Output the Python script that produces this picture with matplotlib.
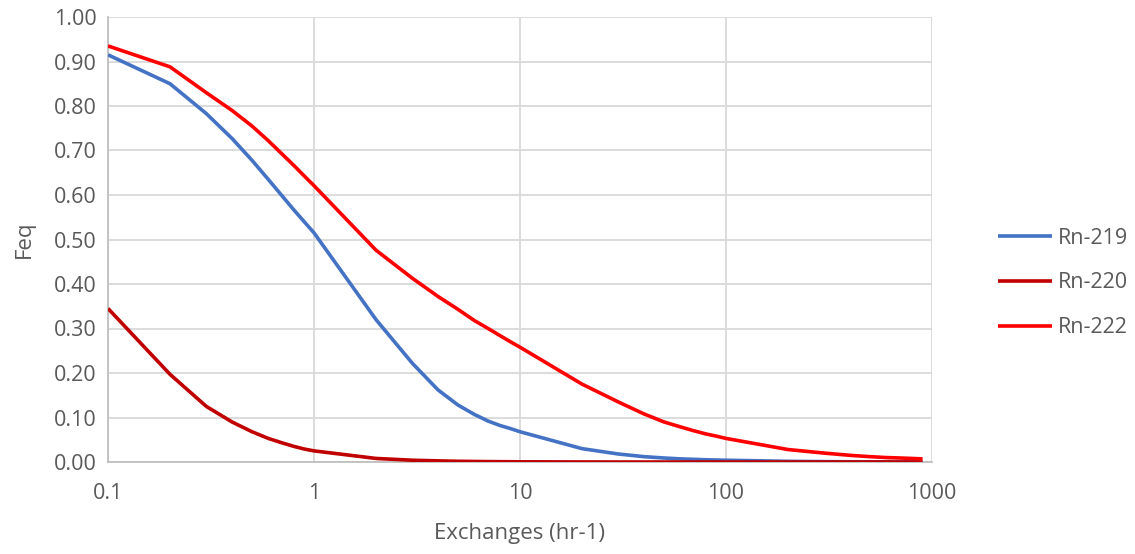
"""
Equilibrium factor vs air exchange rate for three radon isotopes.
"""
import numpy as np, matplotlib
matplotlib.use('Agg')
import matplotlib.pyplot as plt
from matplotlib.ticker import FixedLocator, FuncFormatter, NullLocator

plt.rcParams.update({
    'font.family': ['Open Sans', 'DejaVu Sans'],
    'font.size': 15,
})

exchanges = [0.1, 0.2, 0.3, 0.4, 0.5, 0.6, 0.7, 0.8, 0.9,
             1, 2, 3, 4, 5, 6, 7, 8, 9,
             10, 20, 30, 40, 50, 60, 70, 80, 90,
             100, 200, 300, 400, 500, 600, 700, 800, 900]

rn219 = [0.915, 0.850, 0.783, 0.727, 0.678, 0.635, 0.598, 0.566, 0.539,
         0.515, 0.320, 0.222, 0.162, 0.128, 0.107, 0.092, 0.082, 0.075,
         0.068, 0.030, 0.018, 0.012, 0.009, 0.007, 0.006, 0.005, 0.0045,
         0.004, 0.0015, 0.0008, 0.0005, 0.0004, 0.0003, 0.0002, 0.0002, 0.0001]

rn220 = [0.345, 0.197, 0.125, 0.090, 0.068, 0.053, 0.043, 0.035, 0.029,
         0.025, 0.008, 0.004, 0.0025, 0.0016, 0.0012, 0.0009, 0.0007, 0.0006,
         0.0004, 0.0001, 0.0, 0.0, 0.0, 0.0, 0.0, 0.0, 0.0,
         0.0, 0.0, 0.0, 0.0, 0.0, 0.0, 0.0, 0.0, 0.0]

rn222 = [0.935, 0.888, 0.830, 0.790, 0.755, 0.722, 0.692, 0.666, 0.642,
         0.621, 0.476, 0.413, 0.372, 0.343, 0.318, 0.300, 0.284, 0.270,
         0.258, 0.175, 0.135, 0.108, 0.090, 0.079, 0.070, 0.063, 0.058,
         0.053, 0.028, 0.020, 0.015, 0.012, 0.010, 0.009, 0.008, 0.007]

series = [('Rn-219', rn219, '#4472C4'),
          ('Rn-220', rn220, '#C00000'),
          ('Rn-222', rn222, '#FF0000')]

fig = plt.figure(figsize=(11.35, 5.54), dpi=100)
ax = fig.add_axes([108/1135, 1 - 462/554, (932 - 108)/1135, (462 - 17)/554])

for name, vals, color in series:
    ax.plot(exchanges, vals, color=color, lw=2.6, label=name,
            solid_capstyle='butt', solid_joinstyle='round', zorder=3)

ax.set_xscale('log')
ax.set_xlim(0.1, 1000)
ax.set_ylim(0, 1.0)
ax.xaxis.set_major_locator(FixedLocator([0.1, 1, 10, 100, 1000]))
ax.xaxis.set_minor_locator(NullLocator())
ax.xaxis.set_major_formatter(FuncFormatter(lambda v, p: f'{v:g}'))
ax.set_yticks(np.arange(0, 1.01, 0.1))
ax.yaxis.set_major_formatter(FuncFormatter(lambda v, p: f'{v:.2f}'))

ax.grid(True, color='#D9D9D9', lw=1.3, zorder=0)
ax.set_axisbelow(True)
for s in ['top', 'right']:
    ax.spines[s].set_visible(False)
for s in ['left', 'bottom']:
    ax.spines[s].set_color('#BFBFBF')
    ax.spines[s].set_linewidth(1.3)
ax.tick_params(length=0, colors='#595959', labelsize=15.5)
ax.tick_params(axis='y', pad=8)
ax.tick_params(axis='x', pad=15)

ax.set_xlabel('Exchanges (hr-1)', color='#595959', fontsize=16, labelpad=14)
ax.set_ylabel('Feq', color='#595959', fontsize=16, labelpad=14)

leg = fig.legend(loc='center left', bbox_to_anchor=(979/1135, 1 - 283/554),
                 frameon=False, fontsize=15.5, handlelength=2.5,
                 handletextpad=0.25, labelspacing=1.1)
for t in leg.get_texts():
    t.set_color('#595959')

fig.savefig('out.png', dpi=100, facecolor='white')
